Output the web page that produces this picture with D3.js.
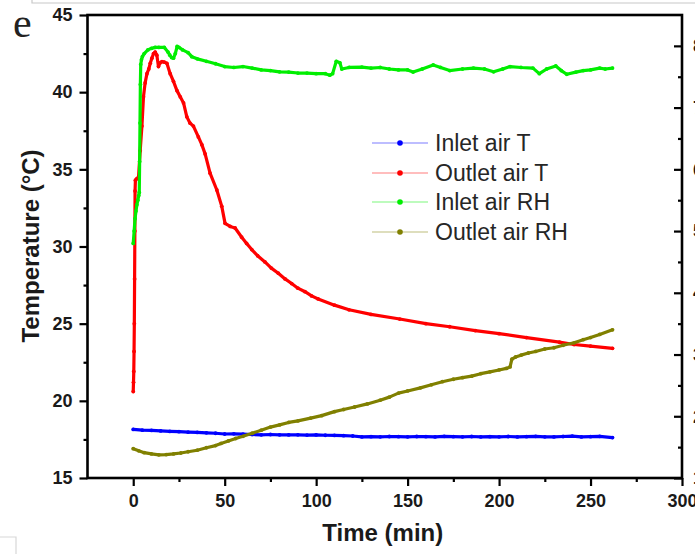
<!DOCTYPE html>
<html>
<head>
<meta charset="utf-8">
<script src="https://cdn.jsdelivr.net/npm/d3@7"></script>
<style>
  html, body { margin: 0; padding: 0; background: #fff; overflow: hidden; }
  svg { display: block; font-family: "Liberation Sans", Arial, sans-serif; }
</style>
</head>
<body>
<svg id="chart" width="695" height="554"></svg>
<script>
// ---------- data ----------
const seriesNames = ["Inlet air T", "Outlet air T", "Inlet air RH", "Outlet air RH"];
const seriesColors = ["#0000ff", "#ff0000", "#00ee00", "#808000"];

const xTicks = [0, 50, 100, 150, 200, 250, 300];
const tempTicks = [15, 20, 25, 30, 35, 40, 45];
const rhTicks = [10, 20, 30, 40, 50, 60, 70, 80];

// Inlet air T (°C)
const inletT_time = [0,5,10,15,20,25,30,35,40,45,50,55,60,65,70,75,80,85,90,95,100,105,110,115,120,125,130,135,140,145,150,155,160,165,170,175,180,185,190,195,200,205,210,215,220,225,230,235,240,245,250,255,262];
const inletT_value = [18.15,18.1,18.08,18.05,18.02,18.0,17.97,17.95,17.93,17.9,17.85,17.86,17.84,17.82,17.8,17.82,17.8,17.79,17.8,17.78,17.79,17.77,17.76,17.74,17.72,17.66,17.68,17.67,17.69,17.68,17.67,17.69,17.68,17.66,17.7,17.68,17.67,17.69,17.66,17.68,17.67,17.69,17.66,17.68,17.7,17.67,17.66,17.69,17.71,17.66,17.68,17.7,17.62];

// Outlet air T (°C)
const outletT_time = [0,0.15,0.3,0.45,0.6,0.75,0.9,1.0,1.2,2.0,2.9,3.8,4.75,5.6,6.5,7.5,8.5,9.3,10.2,11.1,12.0,12.9,13.8,14.7,15.7,17,18.4,20.2,22,23.9,25.7,27.5,29.3,31,32.9,35.6,37.5,39.3,42,45.7,48.4,50.2,53,55.7,59.3,62,64.8,68,72,75.5,79.3,83,86.6,90,93.9,97.5,101.1,110,118,130,145.7,160,173,187,200,215,233,241,250,262];
const outletT_value = [20.6,21.2,21.9,23.2,25.0,27.9,31.0,33.6,34.3,34.4,34.5,36.2,37.8,39.7,40.6,41.2,41.5,41.87,42.2,42.5,42.6,42.4,41.66,41.9,41.98,41.95,41.87,41.2,40.7,40.1,39.7,39.3,38.4,38.0,37.8,37.1,36.6,36.0,34.75,33.66,32.6,31.5,31.3,31.2,30.6,30.2,29.8,29.4,29.0,28.6,28.27,27.9,27.6,27.3,27.07,26.8,26.6,26.2,25.9,25.6,25.3,25.0,24.8,24.55,24.35,24.1,23.8,23.65,23.55,23.4];

// Inlet air RH (%)
const inletRH_time = [0,0.5,1,1.5,2,2.5,3,3.3,3.5,3.7,3.9,4.1,4.5,5,6,8,10,12,14,17,19,20,21,22,23,24,25,27,30,32,35,40,45,50,55,60,65,70,75,80,85,90,95,100,105,107.5,109,111,113,114,118,125,130,135,140,145,150,153,158,164,168,173,180,186,192,197,202,206,212,218.5,222,226,231,234,237,242,246,250,255,258,262];
const inletRH_value = [48.0,50.0,52.0,53.25,54.25,55.0,55.75,56.25,61.25,67.5,73.75,77.0,77.75,78.25,78.75,79.35,79.6,79.75,79.75,79.75,79.0,78.5,78.1,78.0,78.75,79.9,79.75,79.35,78.9,78.25,77.9,77.5,77.1,76.65,76.5,76.65,76.4,76.1,76.0,75.8,75.75,75.6,75.6,75.5,75.5,75.25,75.5,77.5,77.25,76.25,76.5,76.55,76.4,76.5,76.25,76.1,76.1,75.75,76.25,76.9,76.5,76.0,76.25,76.4,76.25,75.8,76.25,76.65,76.5,76.4,75.5,76.25,76.75,76.0,75.4,75.75,76.0,76.1,76.4,76.25,76.4];

// Outlet air RH (%)
const outletRH_time = [0,3,6,10,14,18,22,26,30,35,40,45,48,52,56,60,65,70,75,80,85,90,97,103,110,115,121,128,135,140,145,150,157,163,169,175,180,185,190,195,200,204,206,207,209,212,216,220,225,230,235,241,246,250,255,262];
const outletRH_value = [14.75,14.4,14.1,13.9,13.75,13.8,13.9,14.05,14.25,14.5,14.9,15.25,15.6,16.0,16.4,16.75,17.25,17.75,18.25,18.6,19.0,19.25,19.7,20.1,20.75,21.1,21.5,22.0,22.6,23.1,23.75,24.1,24.6,25.1,25.6,26.0,26.25,26.5,26.9,27.2,27.5,27.75,28.0,29.25,29.6,29.9,30.25,30.5,30.9,31.1,31.5,31.9,32.4,32.75,33.25,34.0];

// ---------- scales ----------
const svg = d3.select("#chart");
const L = 87.5, R = 682, T = 15, B = 478;
const x = d3.scaleLinear().domain([-25, 300]).range([L, R]);
const yT = d3.scaleLinear().domain([15, 45]).range([B, T]);
const yRH = d3.scaleLinear().domain([10, 85]).range([B, T]);

// background remnants (screenshot frame lines)
svg.append("path").attr("d", "M32,0 V3 H695").attr("fill", "none").attr("stroke", "#c8c8c8").attr("stroke-width", 1.2);
svg.append("path").attr("d", "M0,537 H16 V554").attr("fill", "none").attr("stroke", "#d8d8d8").attr("stroke-width", 1.2);

// ---------- series ----------
function zip(ts, vs) { return ts.map((t, i) => ({t: t, v: vs[i]})); }
const series = [
  {name: seriesNames[0], color: seriesColors[0], y: yT, data: zip(inletT_time, inletT_value)},
  {name: seriesNames[1], color: seriesColors[1], y: yT, data: zip(outletT_time, outletT_value)},
  {name: seriesNames[2], color: seriesColors[2], y: yRH, data: zip(inletRH_time, inletRH_value)},
  {name: seriesNames[3], color: seriesColors[3], y: yRH, data: zip(outletRH_time, outletRH_value)}
];

const plot = svg.append("g");
series.forEach(s => {
  const line = d3.line().x(d => x(d.t)).y(d => s.y(d.v)).curve(d3.curveLinear);
  plot.append("path").datum(s.data)
    .attr("d", line).attr("fill", "none")
    .attr("stroke", s.color).attr("stroke-width", 3.2)
    .attr("stroke-linejoin", "round").attr("stroke-linecap", "round");
  plot.append("g").selectAll("circle").data(s.data).enter().append("circle")
    .attr("cx", d => x(d.t)).attr("cy", d => s.y(d.v)).attr("r", 1.9)
    .attr("fill", s.color);
});

// ---------- axes ----------
const tickFont = g => g.selectAll("text")
  .attr("font-size", 18).attr("font-weight", "bold")
  .attr("font-family", "'Liberation Sans', Arial, sans-serif").attr("fill", "#1a1a1a");
const cleanLines = g => { g.select(".domain").remove(); g.selectAll("line").attr("stroke", "#000").attr("stroke-width", 2.2); };

// left axis
const yLeft = svg.append("g").attr("transform", `translate(${L},0)`)
  .call(d3.axisLeft(yT).tickValues(tempTicks).tickSize(8).tickPadding(7).tickFormat(d3.format("d")));
cleanLines(yLeft); tickFont(yLeft);
const yLeftMinor = svg.append("g").attr("transform", `translate(${L},0)`)
  .call(d3.axisLeft(yT).tickValues(d3.range(17.5, 45, 5)).tickSize(4).tickFormat(""));
cleanLines(yLeftMinor);

// bottom axis
const xAxis = svg.append("g").attr("transform", `translate(0,${B})`)
  .call(d3.axisBottom(x).tickValues(xTicks).tickSize(8).tickPadding(8).tickFormat(d3.format("d")));
cleanLines(xAxis); tickFont(xAxis);
const xMinor = svg.append("g").attr("transform", `translate(0,${B})`)
  .call(d3.axisBottom(x).tickValues(d3.range(25, 300, 50)).tickSize(4).tickFormat(""));
cleanLines(xMinor);

// right axis (ticks inside)
const yRight = svg.append("g").attr("transform", `translate(${R},0)`)
  .call(d3.axisRight(yRH).tickValues(rhTicks).tickSizeInner(-8).tickSizeOuter(0).tickPadding(11).tickFormat(d3.format("d")));
cleanLines(yRight); tickFont(yRight);
const yRightMinor = svg.append("g").attr("transform", `translate(${R},0)`)
  .call(d3.axisRight(yRH).tickValues(d3.range(15, 85, 10)).tickSizeInner(-4).tickSizeOuter(0).tickFormat(""));
cleanLines(yRightMinor);

// frame
svg.append("rect").attr("x", L).attr("y", T).attr("width", R - L).attr("height", B - T)
  .attr("fill", "none").attr("stroke", "#000").attr("stroke-width", 2.6);

// axis titles
svg.append("text").attr("x", (L + R) / 2 - 2).attr("y", 541)
  .attr("text-anchor", "middle").attr("font-size", 24).attr("font-weight", "bold")
  .attr("fill", "#1a1a1a").text("Time (min)");
svg.append("text").attr("transform", "translate(39,246) rotate(-90)")
  .attr("text-anchor", "middle").attr("font-size", 24).attr("font-weight", "bold")
  .attr("fill", "#1a1a1a").text("Temperature (°C)");

// panel letter
svg.append("text").attr("x", 13).attr("y", 37)
  .attr("font-family", "'Liberation Serif', 'Times New Roman', serif")
  .attr("font-size", 42).attr("fill", "#222").text("e");

// ---------- legend ----------
const legendRows = [143, 173, 202, 232];
const legend = svg.append("g");
series.forEach((s, i) => {
  const yy = legendRows[i];
  legend.append("line").attr("x1", 372).attr("x2", 428).attr("y1", yy).attr("y2", yy)
    .attr("stroke", s.color).attr("stroke-opacity", 0.35).attr("stroke-width", 1.6);
  legend.append("circle").attr("cx", 400).attr("cy", yy).attr("r", 2.8).attr("fill", s.color);
  legend.append("text").attr("x", 435).attr("y", yy + 8)
    .attr("font-size", 23).attr("fill", "#262626").text(s.name);
});
</script>
</body>
</html>
